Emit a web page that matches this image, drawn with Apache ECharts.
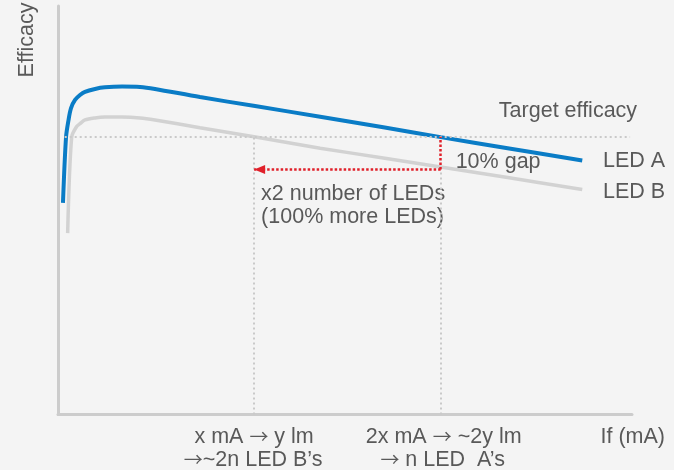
<!DOCTYPE html>
<html>
<head>
<meta charset="utf-8">
<script src="https://cdn.jsdelivr.net/npm/echarts@6/dist/echarts.min.js"></script>
<style>
  html, body { margin: 0; padding: 0; background: #f4f4f4; }
  #chart { width: 674px; height: 470px; }
</style>
</head>
<body>
<div id="chart"></div>
<script>
// Efficacy curves: [forward current (mA), relative efficacy]
const ledA = [
  [5.2, 51.8], [8.4, 67.9], [11, 72.1], [13.6, 75.0], [17.8, 77.0], [23, 78.2],
  [28.2, 79.0], [38.7, 79.7], [49, 80.1], [67, 80.3], [85.7, 80.2], [101.4, 79.7],
  [148.4, 77.7], [206, 75.5], [274, 72.9], [340, 70.3], [400, 67.9], [470, 65.2], [548, 62.2]
];
const ledB = [
  [10.1, 44.4], [14.3, 67.9], [19.5, 70.5], [23, 71.2], [28.2, 72.1], [38.7, 72.6],
  [49, 72.8], [66.6, 72.8], [85.7, 72.6], [101.4, 72.1], [148.4, 70.2], [205, 68.0],
  [274, 65.2], [340, 62.8], [400, 60.6], [470, 58.0], [548, 55.1]
];

// Reference levels
const targetEfficacy = 68;
const targetSpan = [7, 598];
const currentB = 205;   // x mA : LED B reaches the target here
const currentA = 400;   // 2x mA : LED A reaches the target here
const gapLevel = 60;

// Text
const seriesNames = ['LED A', 'LED B'];
const yAxisName = 'Efficacy';
const xAxisName = 'If (mA)';
const targetText = 'Target efficacy';
const gapText = '10% gap';
const countLines = ['x2 number of LEDs', '(100% more LEDs)'];
const labelB = ['x mA {a|\u2192} y lm', '{a|\u2192}~2n LED B\u2019s'];
const labelA = ['2x mA {a|\u2192} ~2y lm', '{a|\u2192} n LED  A\u2019s'];

const FONT = '"Liberation Sans", Arial, sans-serif';
const FS = 21.5;
const TXT = '#595959';
const GRID_DOT = '#c9c9c9';
const RED = '#e0202a';

const chart = echarts.init(document.getElementById('chart'), null, { renderer: 'canvas' });

const axisCommon = {
  type: 'value',
  axisLine: { show: true, lineStyle: { color: '#cccccc', width: 3 } },
  axisTick: { show: false },
  axisLabel: { show: false },
  splitLine: { show: false }
};

const dotted = { color: GRID_DOT, width: 2, type: [2, 3] };
const redDotted = { color: RED, width: 2.5, type: [2.5, 2] };

chart.setOption({
  animation: false,
  backgroundColor: '#f4f4f4',
  grid: { left: 58, right: 42, top: 6, bottom: 55.5, containLabel: false },
  xAxis: Object.assign({}, axisCommon, { min: 0, max: 600 }),
  yAxis: Object.assign({}, axisCommon, { min: 0, max: 100 }),
  series: [
    {
      name: 'guides',
      type: 'line',
      data: [],
      z: 1,
      markLine: {
        silent: true,
        symbol: 'none',
        label: { show: false },
        emphasis: { disabled: true },
        data: [
          [{ coord: [targetSpan[0], targetEfficacy], lineStyle: dotted }, { coord: [targetSpan[1], targetEfficacy] }],
          [{ coord: [currentB, 0], lineStyle: dotted }, { coord: [currentB, targetEfficacy] }],
          [{ coord: [currentA, 0], lineStyle: dotted }, { coord: [currentA, gapLevel] }],
          [{ coord: [currentA, gapLevel], lineStyle: redDotted }, { coord: [currentA, targetEfficacy] }],
          [
            { coord: [currentA, gapLevel], symbol: 'none', lineStyle: redDotted },
            { coord: [currentB, gapLevel], symbol: 'triangle', symbolSize: [9, 11], symbolOffset: [0, 5.5] }
          ]
        ]
      }
    },
    {
      name: seriesNames[1],
      type: 'line',
      data: ledB,
      z: 3,
      smooth: 0.3,
      showSymbol: false,
      lineStyle: { color: '#d2d2d2', width: 3.5, cap: 'butt' }
    },
    {
      name: seriesNames[0],
      type: 'line',
      data: ledA,
      z: 4,
      smooth: 0.3,
      showSymbol: false,
      lineStyle: { color: '#0a7cc6', width: 4, cap: 'butt' }
    }
  ]
});

// Text annotations placed relative to the data they describe
const px = (x, y) => chart.convertToPixel({ gridIndex: 0 }, [x, y]);
const pB = px(currentB, 0);
const pA = px(currentA, 0);
const pGap = px(currentA, gapLevel);
const pTarget = px(targetSpan[1], targetEfficacy);
const endA = px(ledA[ledA.length - 1][0], ledA[ledA.length - 1][1]);
const endB = px(ledB[ledB.length - 1][0], ledB[ledB.length - 1][1]);

const txt = (text, x, y, align, extra) => Object.assign({
  type: 'text',
  x: x, y: y,
  silent: true,
  style: {
    text: text,
    font: FS + 'px ' + FONT,
    fill: TXT,
    align: align || 'left',
    verticalAlign: 'middle',
    lineHeight: 23,
    rich: {
      a: { fontFamily: '"Noto Sans CJK SC"', fontSize: 19, fill: TXT, lineHeight: 23 }
    }
  }
}, extra || {});

chart.setOption({
  graphic: [
    txt(yAxisName, 27, 40, 'center', { rotation: Math.PI / 2 }),
    txt(targetText, pTarget[0] + 7, pTarget[1] - 26, 'right'),
    txt(seriesNames[0], 603, endA[1] + 1, 'left'),
    txt(seriesNames[1], 603, endB[1] + 3, 'left'),
    txt(gapText, pGap[0] + 15, 162, 'left'),
    txt(countLines[0], pB[0] + 7, 194, 'left'),
    txt(countLines[1], pB[0] + 7, 217, 'left'),
    txt(labelB[0], pB[0], 437, 'center'),
    txt(labelB[1], pB[0] - 1, 460, 'center'),
    txt(labelA[0], pA[0] + 3, 437, 'center'),
    txt(labelA[1], pA[0] + 2, 460, 'center'),
    txt(xAxisName, 665, 437, 'right')
  ]
});
</script>
</body>
</html>
